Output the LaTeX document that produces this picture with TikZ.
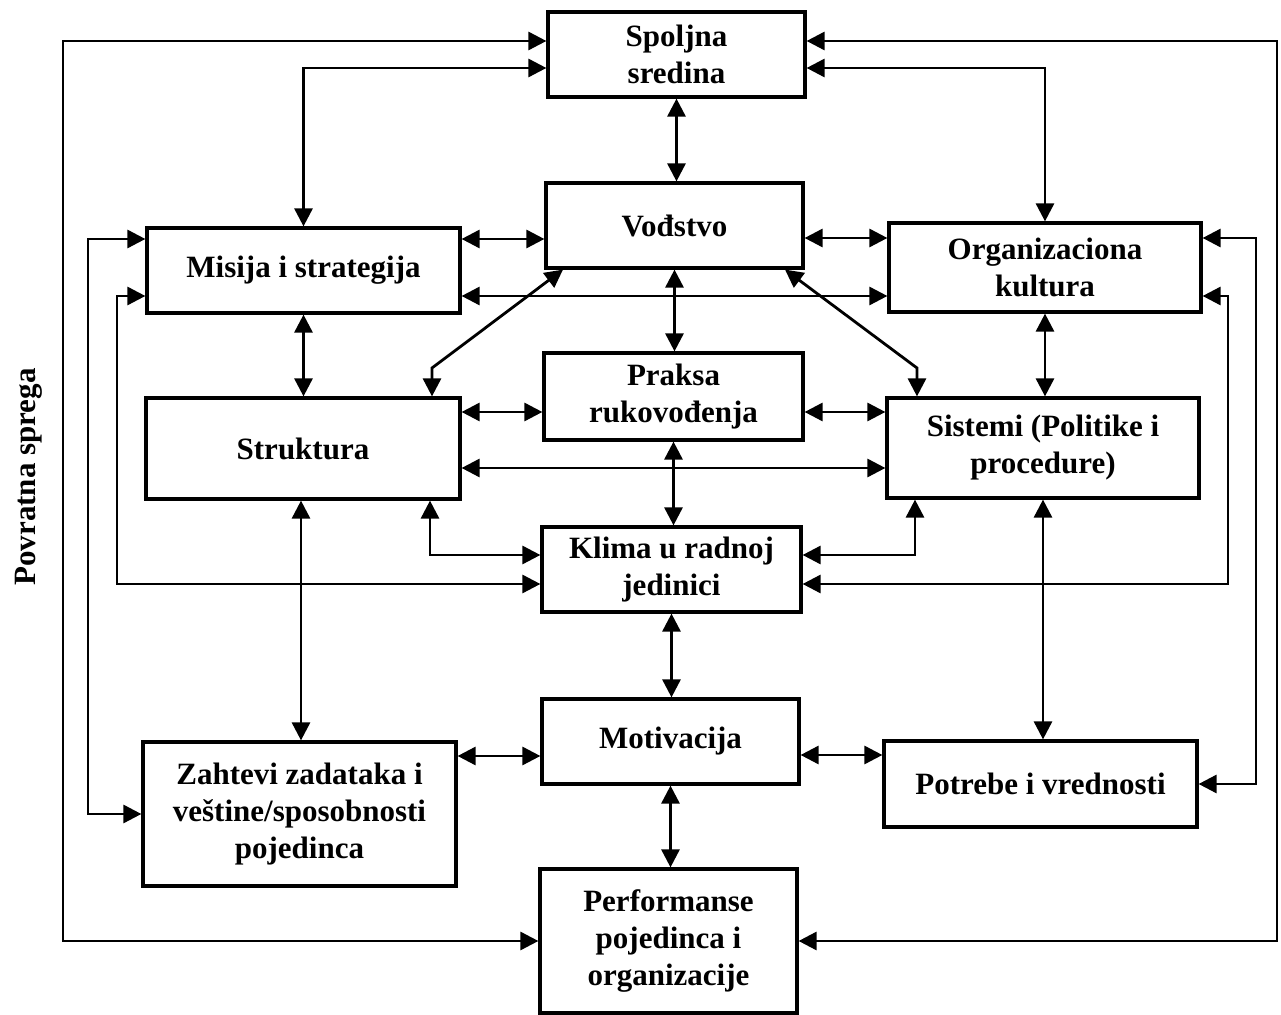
\documentclass[tikz,border=0pt]{standalone}
\usepackage{fontspec}
\setmainfont{Liberation Serif}
\usetikzlibrary{arrows.meta}
\begin{document}
\begin{tikzpicture}[x=0.5pt,y=-0.5pt,
  box/.style={draw, line width=1.6pt, align=center, inner sep=0pt,
    font=\bfseries\fontsize{15.5}{18.5}\selectfont},
  link/.style={line width=1.4pt, {Triangle[length=9pt,width=9pt]}-{Triangle[length=9pt,width=9pt]}},
  lbl/.style={font=\bfseries\fontsize{15.5}{18.5}\selectfont}]
\useasboundingbox (0,0) rectangle (1281,1015);
% boxes
\node[box, minimum width=128.5pt, minimum height=42.5pt] (spo) at (676.5,54.5) {Spoljna\\sredina};
\node[box, minimum width=128.5pt, minimum height=42.5pt] (vod) at (674.5,225.5) {Vođstvo};
\node[box, minimum width=156.5pt, minimum height=42.5pt] (mis) at (303.5,270.5) {Misija i strategija};
\node[box, minimum width=156pt, minimum height=44.5pt] (org) at (1045,267.5) {Organizaciona\\kultura};
\node[box, minimum width=129.5pt, minimum height=43.5pt] (pra) at (673.5,396.5) {Praksa\\rukovođenja};
\node[box, minimum width=157pt, minimum height=50.5pt] (str) at (303,448.5) {Struktura};
\node[box, minimum width=156pt, minimum height=50pt] (sis) at (1043,448) {Sistemi (Politike i\\procedure)};
\node[box, minimum width=129.5pt, minimum height=42.5pt] (kli) at (671.5,569.5) {Klima u radnoj\\jedinici};
\node[box, minimum width=128.5pt, minimum height=42.5pt] (mot) at (670.5,741.5) {Motivacija};
\node[box, minimum width=156.5pt, minimum height=72pt] (zah) at (299.5,814) {Zahtevi zadataka i\\veštine/sposobnosti\\pojedinca};
\node[box, minimum width=156.5pt, minimum height=43pt] (pot) at (1040.5,784) {Potrebe i vrednosti};
\node[box, minimum width=128.5pt, minimum height=72pt] (per) at (668.5,941) {Performanse\\pojedinca i\\organizacije};
\node[lbl, rotate=90] (fb) at (29,477) {Povratna sprega};
% connectors
\draw[link] (spo.west |- 0,41) -- (63,41) -- (63,941) -- (per.west);
\draw[link] (spo.east |- 0,41) -- (1277,41) -- (1277,941) -- (per.east);
\draw[link] (spo.west |- 0,68) -| (mis.north);
\draw[link] (spo.east |- 0,68) -| (org.north);
\draw[link] (spo.south) -- (spo.south |- vod.north);
\draw[link] (mis.east |- 0,239) -- (vod.west |- 0,239);
\draw[link] (vod.east |- 0,238) -- (org.west |- 0,238);
\draw[link] (mis.east |- 0,296) -- (org.west |- 0,296);
\draw[link] (mis.south) -- (mis.south |- str.north);
\draw[link] (org.south) -- (org.south |- sis.north);
\draw[link] (vod.south) -- (vod.south |- pra.north);
\draw[link] (vod.south -| 563,0) -- (432,368) -- (str.north -| 432,0);
\draw[link] (vod.south -| 785,0) -- (917,368) -- (sis.north -| 917,0);
\draw[link] (str.east |- 0,412) -- (pra.west |- 0,412);
\draw[link] (pra.east |- 0,412) -- (sis.west |- 0,412);
\draw[link] (str.east |- 0,468) -- (sis.west |- 0,468);
\draw[link] (pra.south) -- (pra.south |- kli.north);
\draw[link] (str.south -| 430,0) |- (kli.west |- 0,555);
\draw[link] (sis.south -| 915,0) |- (kli.east |- 0,555);
\draw[link] (mis.west |- 0,296) -- (117,296) -- (117,584) -- (kli.west |- 0,584);
\draw[link] (org.east |- 0,296) -- (1228,296) -- (1228,584) -- (kli.east |- 0,584);
\draw[link] (mis.west |- 0,239) -- (88,239) -- (88,814) -- (zah.west |- 0,814);
\draw[link] (org.east |- 0,238) -- (1256,238) -- (1256,784) -- (pot.east);
\draw[link] (str.south -| 301,0) -- (zah.north -| 301,0);
\draw[link] (sis.south) -- (sis.south |- pot.north);
\draw[link] (kli.south) -- (kli.south |- mot.north);
\draw[link] (zah.east |- 0,756) -- (mot.west |- 0,756);
\draw[link] (mot.east |- 0,755) -- (pot.west |- 0,755);
\draw[link] (mot.south) -- (mot.south |- per.north);
\end{tikzpicture}
\end{document}
